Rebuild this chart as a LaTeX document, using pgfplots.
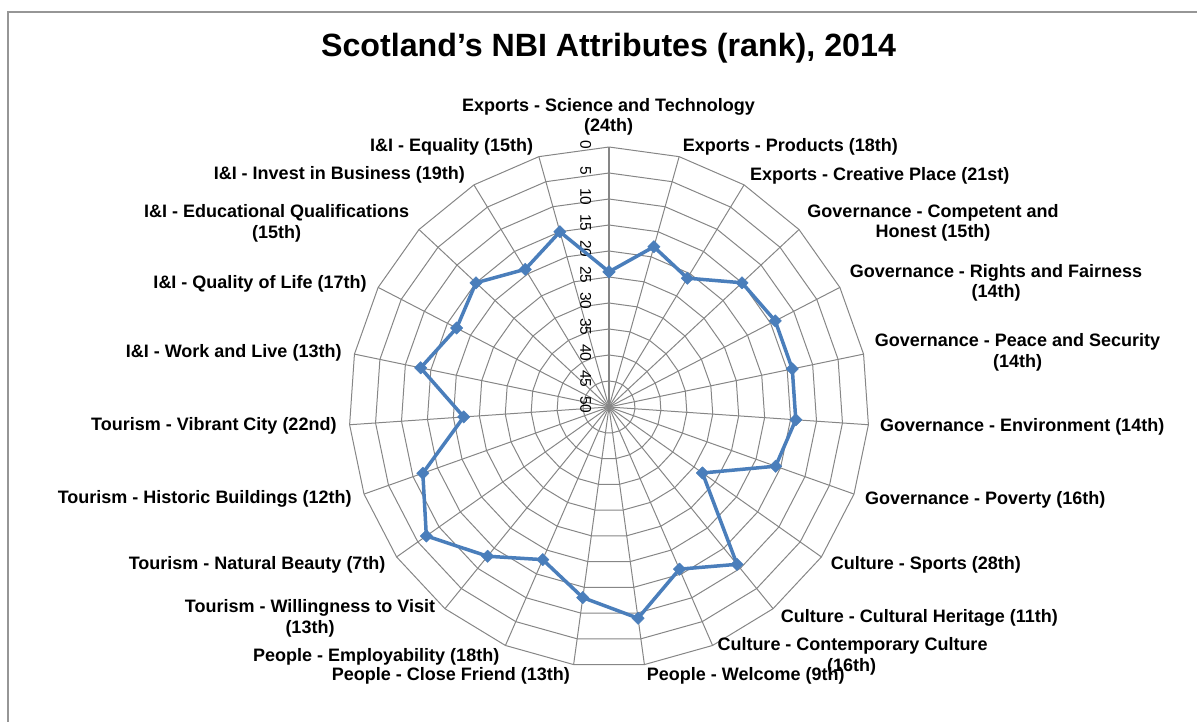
\documentclass[border=0pt]{standalone}
\usepackage{fontspec}
\setmainfont{Liberation Sans}
\usepackage{pgfplots}
\usepackage{pgfplotstable}
\pgfplotsset{compat=1.18}
\definecolor{serblue}{RGB}{74,126,187}
\definecolor{gridc}{RGB}{134,134,134}
\definecolor{framec}{RGB}{150,150,150}
\newcommand\lab{\fontsize{18}{20}\selectfont\bfseries}
\newcommand\ticksz{\fontsize{15.5}{17}\selectfont}

% idx = category position (clockwise from top), rank = NBI rank
\pgfplotstableread{
idx rank
0 24
1 18
2 21
3 15
4 14
5 14
6 14
7 16
8 28
9 11
10 16
11 9
12 13
13 18
14 13
15 7
16 12
17 22
18 13
19 17
20 15
21 19
22 15
23 24
}\ranks

\begin{document}
\begin{tikzpicture}
\useasboundingbox (0pt,0pt) rectangle (1197pt,-722pt);
\begin{axis}[at={(0pt,0pt)}, anchor=north west,
  x=5.2pt, y=5.2pt,
  xmin=-117.1154, xmax=113.0769, ymin=-60.5769, ymax=78.2692,
  enlargelimits=false, hide axis, clip=false]
% polygonal rings
\pgfplotsinvokeforeach{5,10,...,50}{
  \addplot[gridc, line width=1pt, mark=none, domain=0:23, samples=24]
    ({#1*sin(x*360/23)},{#1*cos(x*360/23)});
}
% spokes
\pgfplotsinvokeforeach{1,...,22}{
  \draw[gridc, line width=1pt] (axis cs:0,0) -- (axis cs:{50*sin(#1*360/23)},{50*cos(#1*360/23)});
}
\draw[gridc, line width=1.8pt] (axis cs:0,0) -- (axis cs:0,50);
% radial tick labels (rank, reversed: 0 outside, 50 centre)
\pgfplotsinvokeforeach{0,5,...,50}{
  \node[rotate=-90, font=\ticksz, inner sep=0pt] at (axis cs:-4.5,{50-#1+0.4}) {#1};
}
% data
\addplot[color=serblue, line width=3.5pt, line join=round,
  mark=square*, mark size=4.4pt,
  mark options={rotate=45, line width=0.4pt, fill=serblue, draw=serblue}]
  table[x expr={(50-\thisrow{rank})*sin(\thisrow{idx}*360/23)},
        y expr={(50-\thisrow{rank})*cos(\thisrow{idx}*360/23)}] {\ranks};
\end{axis}
\begin{scope}[x=1pt,y=-1pt, every node/.style={inner sep=0pt, font=\lab}]
\draw[framec, line width=1.5pt] (8,722) -- (8,12) -- (1197,12);
\node[anchor=base, font=\fontsize{32.2}{36}\selectfont\bfseries] at (608.5,56.5) {Scotland’s NBI Attributes (rank), 2014};
% top
\node[anchor=base] at (608.5,111.7) {Exports - Science and Technology};
\node[anchor=base] at (608.5,131.7) {(24th)};
% right side
\node[anchor=base west] at (682.7,151.7) {Exports - Products (18th)};
\node[anchor=base west] at (750,180.7) {Exports - Creative Place (21st)};
\node[anchor=base] at (933,217.7) {Governance - Competent and};
\node[anchor=base] at (933,237.7) {Honest (15th)};
\node[anchor=base] at (996,277.3) {Governance - Rights and Fairness};
\node[anchor=base] at (996,298) {(14th)};
\node[anchor=base] at (1017.5,346.7) {Governance - Peace and Security};
\node[anchor=base] at (1017.5,367.7) {(14th)};
\node[anchor=base west] at (880,431) {Governance - Environment (14th)};
\node[anchor=base west] at (865,504) {Governance - Poverty (16th)};
\node[anchor=base west] at (830.7,569) {Culture - Sports (28th)};
\node[anchor=base west] at (780.7,622.3) {Culture - Cultural Heritage (11th)};
\node[anchor=base west] at (717.3,650) {Culture - Contemporary Culture};
\node[anchor=base] at (851.7,671.7) {(16th)};
\node[anchor=base west] at (646.7,680) {People - Welcome (9th)};
% left side
\node[anchor=base east] at (570,680) {People - Close Friend (13th)};
\node[anchor=base west] at (253,661.7) {People - Employability (18th)};
\node[anchor=base] at (310,612.3) {Tourism - Willingness to Visit};
\node[anchor=base] at (310,633.3) {(13th)};
\node[anchor=base east] at (385.7,569) {Tourism - Natural Beauty (7th)};
\node[anchor=base east] at (351.7,503.3) {Tourism - Historic Buildings (12th)};
\node[anchor=base east] at (336.7,430.7) {Tourism - Vibrant City (22nd)};
\node[anchor=base east] at (341.7,357.7) {I\&I - Work and Live (13th)};
\node[anchor=base east] at (366.7,288.3) {I\&I - Quality of Life (17th)};
\node[anchor=base] at (276.7,217.7) {I\&I - Educational Qualifications};
\node[anchor=base] at (276.7,238.3) {(15th)};
\node[anchor=base east] at (465,180) {I\&I - Invest in Business (19th)};
\node[anchor=base east] at (533.3,151.7) {I\&I - Equality (15th)};
\end{scope}
\end{tikzpicture}
\end{document}
